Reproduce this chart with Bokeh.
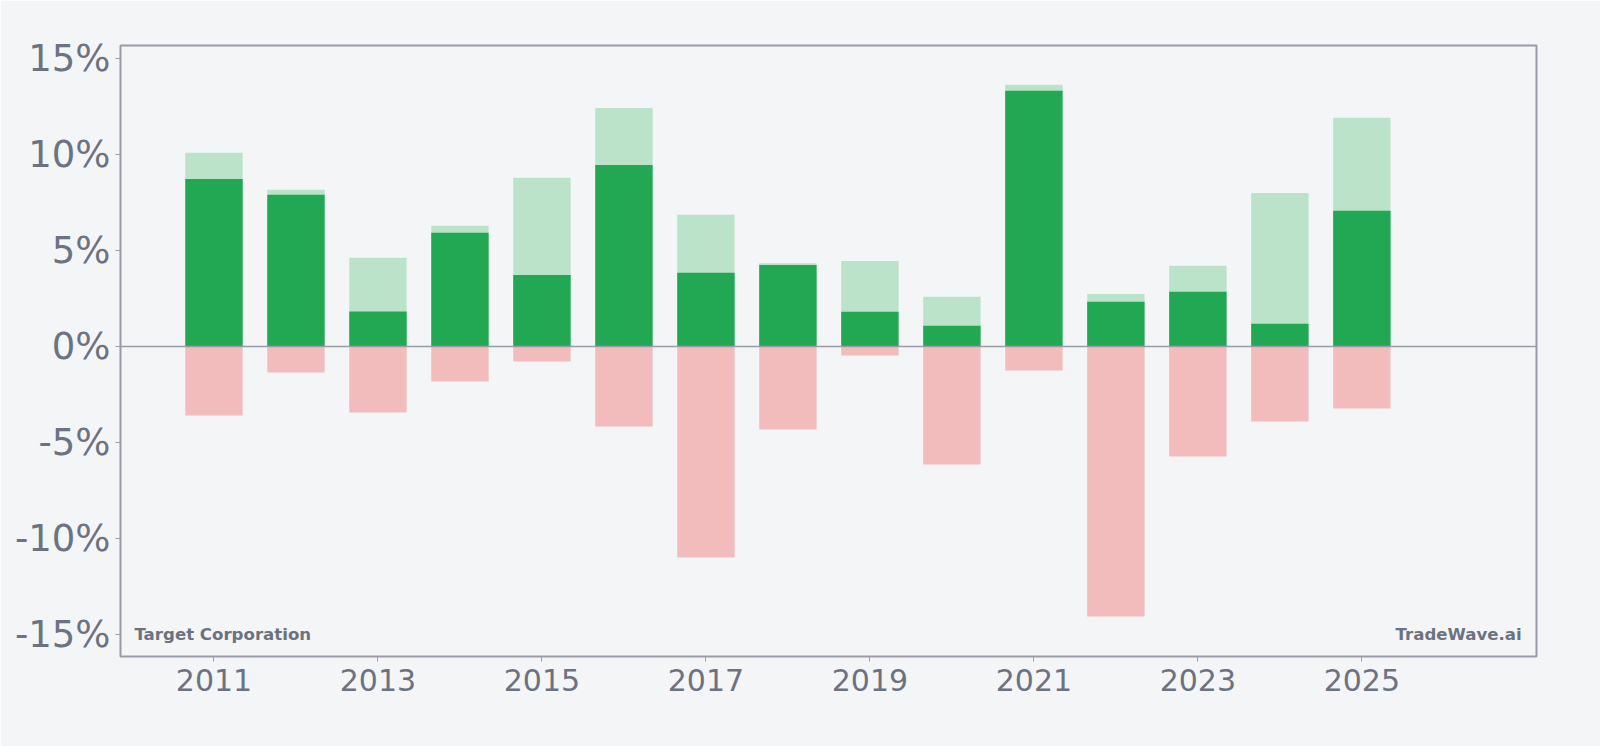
from bokeh.plotting import figure
from bokeh.models import ColumnDataSource, Span, Label, FixedTicker, PrintfTickFormatter, Range1d
from bokeh.embed import file_html
from bokeh.resources import INLINE

years = [2011, 2012, 2013, 2014, 2015, 2016, 2017, 2018, 2019, 2020, 2021, 2022, 2023, 2024, 2025]
max_gain = [10.09, 8.16, 4.62, 6.29, 8.79, 12.43, 6.86, 4.34, 4.46, 2.59, 13.63, 2.74, 4.20, 8.00, 11.91]
year_return = [8.73, 7.90, 1.82, 5.92, 3.73, 9.46, 3.84, 4.25, 1.81, 1.08, 13.32, 2.33, 2.85, 1.18, 7.07]
max_drawdown = [-3.59, -1.35, -3.44, -1.82, -0.78, -4.17, -10.99, -4.32, -0.47, -6.15, -1.25, -14.06, -5.73, -3.91, -3.23]
y_ticks = [-15, -10, -5, 0, 5, 10, 15]
x_ticks = [2011, 2013, 2015, 2017, 2019, 2021, 2023, 2025]

BG = "#f4f5f7"
TXT = "#6b7280"
BORDER = "#9a9ba6"

src = ColumnDataSource(dict(x=years, hi=max_gain, ret=year_return, lo=max_drawdown,
                            zero=[0] * len(years)))

p = figure(width=1600, height=746, output_backend="svg", toolbar_location=None,
           x_range=Range1d(2009.86, 2027.13), y_range=Range1d(-16.15, 15.68),
           min_border_left=120, min_border_right=64, min_border_top=45, min_border_bottom=90)
p.background_fill_color = BG
p.border_fill_color = BG
p.outline_line_color = BORDER
p.outline_line_width = 2
p.grid.visible = False

p.vbar(x="x", top="hi", bottom="zero", width=0.7, source=src, fill_color="#bae3c9", line_color=None)
p.vbar(x="x", top="ret", bottom="zero", width=0.7, source=src, fill_color="#22a852", line_color=None)
p.vbar(x="x", top="zero", bottom="lo", width=0.7, source=src, fill_color="#f3bcbc", line_color=None)

p.add_layout(Span(location=0, dimension="width", line_color=BORDER, line_width=1.5))

for ax in (p.xaxis[0], p.yaxis[0]):
    ax.axis_line_color = None
    ax.major_tick_line_color = BORDER
    ax.major_tick_out = 5
    ax.major_tick_in = 0
    ax.minor_tick_line_color = None
    ax.major_label_text_color = TXT
    ax.major_label_text_font = "DejaVu Sans"
    ax.major_label_standoff = 7

p.xaxis.ticker = FixedTicker(ticks=x_ticks)
p.xaxis.major_label_text_font_size = "30px"
p.yaxis.ticker = FixedTicker(ticks=y_ticks)
p.yaxis.formatter = PrintfTickFormatter(format="%d%%")
p.yaxis.major_label_text_font_size = "37px"
p.yaxis.major_label_standoff = 5

p.add_layout(Label(x=2010.03, y=-15.0, text="Target Corporation", text_font="DejaVu Sans",
                   text_font_style="bold", text_font_size="16.6px", text_color=TXT,
                   text_baseline="alphabetic"))
p.add_layout(Label(x=2026.95, y=-15.0, text="TradeWave.ai", text_font="DejaVu Sans",
                   text_font_style="bold", text_font_size="16.6px", text_color=TXT,
                   text_align="right", text_baseline="alphabetic"))

open("out.html", "w").write(file_html(p, INLINE))
